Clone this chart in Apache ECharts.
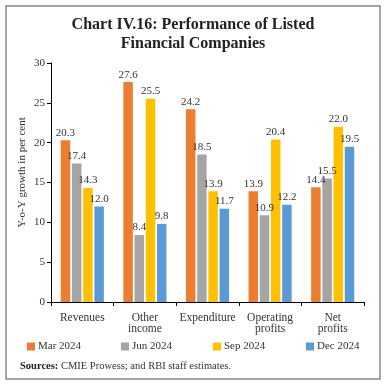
<!DOCTYPE html>
<html><head><meta charset="utf-8">
<script src="https://cdn.jsdelivr.net/npm/echarts@6/dist/echarts.min.js"></script>
<style>html,body{margin:0;padding:0;background:#fff}#c{width:386px;height:386px}</style>
</head><body><div id="c"></div>
<script>
var categories = ['Revenues', 'Other\nincome', 'Expenditure', 'Operating\nprofits', 'Net\nprofits'];
var seriesNames = ['Mar 2024', 'Jun 2024', 'Sep 2024', 'Dec 2024'];
var mar2024 = [20.3, 27.6, 24.2, 13.9, 14.4];
var jun2024 = [17.4, 8.4, 18.5, 10.9, 15.5];
var sep2024 = [14.3, 25.5, 13.9, 20.4, 22.0];
var dec2024 = [12.0, 9.8, 11.7, 12.2, 19.5];
var yTicks = [0, 5, 10, 15, 20, 25, 30];

var colors = ['#ED7D31', '#A5A5A5', '#FFC000', '#5B9BD5'];
var values = [mar2024, jun2024, sep2024, dec2024];
var font = 'Liberation Serif';

var chart = echarts.init(document.getElementById('c'), null, {renderer: 'canvas'});
var series = values.map(function (v, i) {
  return {
    name: seriesNames[i], type: 'bar', data: v,
    barWidth: 9.5, barGap: '18%',
    itemStyle: {color: colors[i]},
    label: {show: true, position: 'top', distance: 2, color: '#333', fontFamily: font, fontSize: 11,
      formatter: function (p) { return p.value.toFixed(1); }}
  };
});
var legendLefts = [22, 116, 208, 301];
var legends = seriesNames.map(function (n, i) {
  return {data: [n], left: legendLefts[i], top: 336, itemWidth: 8, itemHeight: 8, icon: 'rect',
    textStyle: {fontFamily: font, fontSize: 11, color: '#333', padding: [0, 0, 0, -2]}, itemGap: 4};
});
chart.setOption({
  animation: false,
  color: colors,
  title: {text: 'Chart IV.16: Performance of Listed\nFinancial Companies', left: 'center', top: 10,
    textStyle: {fontFamily: font, fontWeight: 'bold', fontSize: 16, lineHeight: 19, color: '#222'}},
  grid: {left: 51, right: 22, top: 63, bottom: 84},
  legend: legends,
  xAxis: {type: 'category', data: categories,
    axisLine: {lineStyle: {color: '#000'}},
    axisTick: {show: true, inside: false, length: 4, lineStyle: {color: '#000'}},
    axisLabel: {interval: 0, fontFamily: font, fontSize: 11.5, color: '#333', lineHeight: 11, margin: 10}},
  yAxis: {type: 'value', min: yTicks[0], max: yTicks[yTicks.length - 1], interval: 5,
    name: 'Y-o-Y growth in per cent', nameLocation: 'middle', nameGap: 23, nameMoveOverlap: false,
    nameTextStyle: {fontFamily: font, fontSize: 11, color: '#333', padding: [0, 0, 0, 20]},
    axisLine: {show: true, lineStyle: {color: '#000'}},
    axisTick: {show: true, length: 4, lineStyle: {color: '#000'}},
    splitLine: {show: false},
    axisLabel: {fontFamily: font, fontSize: 11, color: '#333', margin: 6}},
  series: series,
  graphic: [
    {type: 'rect', shape: {x: 6, y: 6, width: 374, height: 373}, style: {fill: 'none', stroke: '#888', lineWidth: 1.5}},
    {type: 'text', left: 20, top: 361, style: {text: '{b|Sources:} CMIE Prowess; and RBI staff estimates.',
      rich: {b: {fontWeight: 'bold', fontFamily: font, fontSize: 10.5, fill: '#222'}},
      fontFamily: font, fontSize: 10.5, fill: '#333'}}
  ]
});
</script></body></html>
